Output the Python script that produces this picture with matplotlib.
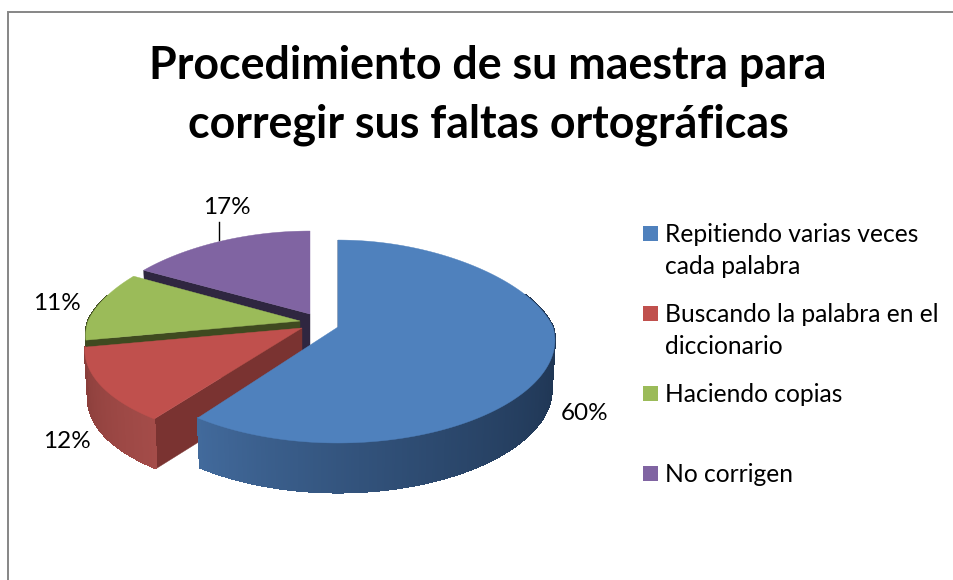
import numpy as np
import matplotlib
matplotlib.use("Agg")
import matplotlib.pyplot as plt
from matplotlib.collections import PolyCollection
from matplotlib.colors import to_rgb

title_lines = ["Procedimiento de su maestra para", "corregir sus faltas ortográficas"]
categories = ["Repitiendo varias veces\ncada palabra", "Buscando la palabra en el\ndiccionario",
              "Haciendo copias", "No corrigen"]
values = [60, 12, 11, 17]
labels = ["60%", "12%", "11%", "17%"]
top_colors = ["#4f81bd", "#c0504d", "#9bbb59", "#8064a2"]
legend_colors = ["#4f81bd", "#c0504d", "#9bbb59", "#8064a2"]
face_colors = ["#2b4265", "#7a3331", "#3f4a20", "#2f2640"]
side_left = ["#426a9c", "#a44c49", "#3f4a20", "#2f2640"]
side_right = ["#1c314d", "#8a3e3b", "#3f4a20", "#2f2640"]

# layout (pixels)
apexes = [(338, 327), (302, 328), (300, 321), (310, 314)]
label_xy = [(585, 413), (67, 442), (57, 304), (227, 208)]
legend_y = [(234, 266), (314, 346), (394,), (474,)]
RX_LIST = [215, 212, 212, 212]
RY, KX_BACK, DEPTH, SHRINK = 99.4, 0.217, 49.5, 0.985
KX_FRONT = [0.135, 0.23, 0.15, 0.22]
KY_FRONT = 0.143
KY_BACK = [0.143, 0.143, 0.143, 0.198]

fig = plt.figure(figsize=(9.54, 5.8), dpi=100)
ax = fig.add_axes([0, 0, 1, 1])
ax.set_xlim(0, 954)
ax.set_ylim(580, 0)
ax.axis("off")
plt.rcParams["font.family"] = ["Lato", "DejaVu Sans"]


def project(i, angle, radius=1.0, lower=False):
    apex = apexes[i]
    a = np.radians(angle)
    u, v = radius * np.sin(a), -radius * np.cos(a)
    dx = RX_LIST[i] * u * (1 + (KX_FRONT[i] if v > 0 else KX_BACK) * v)
    dy = RY * v / (1 - (KY_FRONT if v > 0 else KY_BACK[i]) * v)
    if lower:
        return apex[0] + dx * SHRINK, apex[1] + dy + DEPTH
    return apex[0] + dx, apex[1] + dy


def mix(c1, c2, t):
    c1, c2 = np.array(to_rgb(c1)), np.array(to_rgb(c2))
    return tuple(c1 + (c2 - c1) * t)


fractions = np.array(values, dtype=float) / sum(values)
ends = np.cumsum(fractions) * 360
starts = ends - fractions * 360

# painter's order: back slices first, the largest (front) slice last
for i in [3, 2, 1, 0]:
    apex = apexes[i]
    a0, a1 = starts[i], ends[i]
    # radial face at the slice's start angle (the one turned to the viewer)
    ax.add_patch(plt.Polygon([apex, project(i, a0), project(i, a0, lower=True),
                              project(i, a0, radius=0, lower=True)], closed=True,
                             fc=face_colors[i], ec=face_colors[i], lw=0.3, zorder=2))
    # outer rim with a gradient along the visible front part
    lo, hi = max(a0, 70), min(a1, 285)
    if hi > lo:
        th = np.linspace(lo, hi, 241)
        quads, cols = [], []
        for t0, t1 in zip(th[:-1], th[1:]):
            quads.append([project(i, t0), project(i, t1),
                          project(i, t1, lower=True), project(i, t0, lower=True)])
            cols.append(mix(side_right[i], side_left[i], ((t0 - lo) / (hi - lo)) ** 1.6
                            if i == 0 else (hi - t0) / (hi - lo)))
        ax.add_collection(PolyCollection(quads, facecolors=cols, edgecolors=cols,
                                         linewidths=0.8, antialiaseds=False, zorder=2))
    # top surface
    th = np.linspace(a0, a1, 200)
    pts = [apex] + [project(i, t) for t in th]
    ax.add_patch(plt.Polygon(pts, closed=True, fc=top_colors[i], ec=top_colors[i], lw=0.3, zorder=2))

# value labels and leader line
for s, (x, y) in zip(labels, label_xy):
    ax.text(x, y, s, ha="center", va="center", fontsize=17.5, color="black", zorder=5)
ax.plot([219, 219], [222, 240], color="black", lw=1.0, zorder=3)

# title
for s, y in zip(title_lines, (66, 125)):
    ax.text(488, y, s, ha="center", va="center", fontsize=32.2, fontweight="bold", color="black")

# legend
for c, name, ys in zip(legend_colors, categories, legend_y):
    ax.add_patch(plt.Rectangle((643, ys[0] - 8), 15, 15, fc=c, ec="none"))
    for line, y in zip(name.split("\n"), ys):
        ax.text(665, y, line, ha="left", va="center", fontsize=17.7, color="black")

# chart frame
ax.plot([8, 8, 954], [580, 12, 12], color="#868686", lw=1.4, solid_joinstyle="miter")

fig.savefig("out.png", dpi=100, facecolor="white")
